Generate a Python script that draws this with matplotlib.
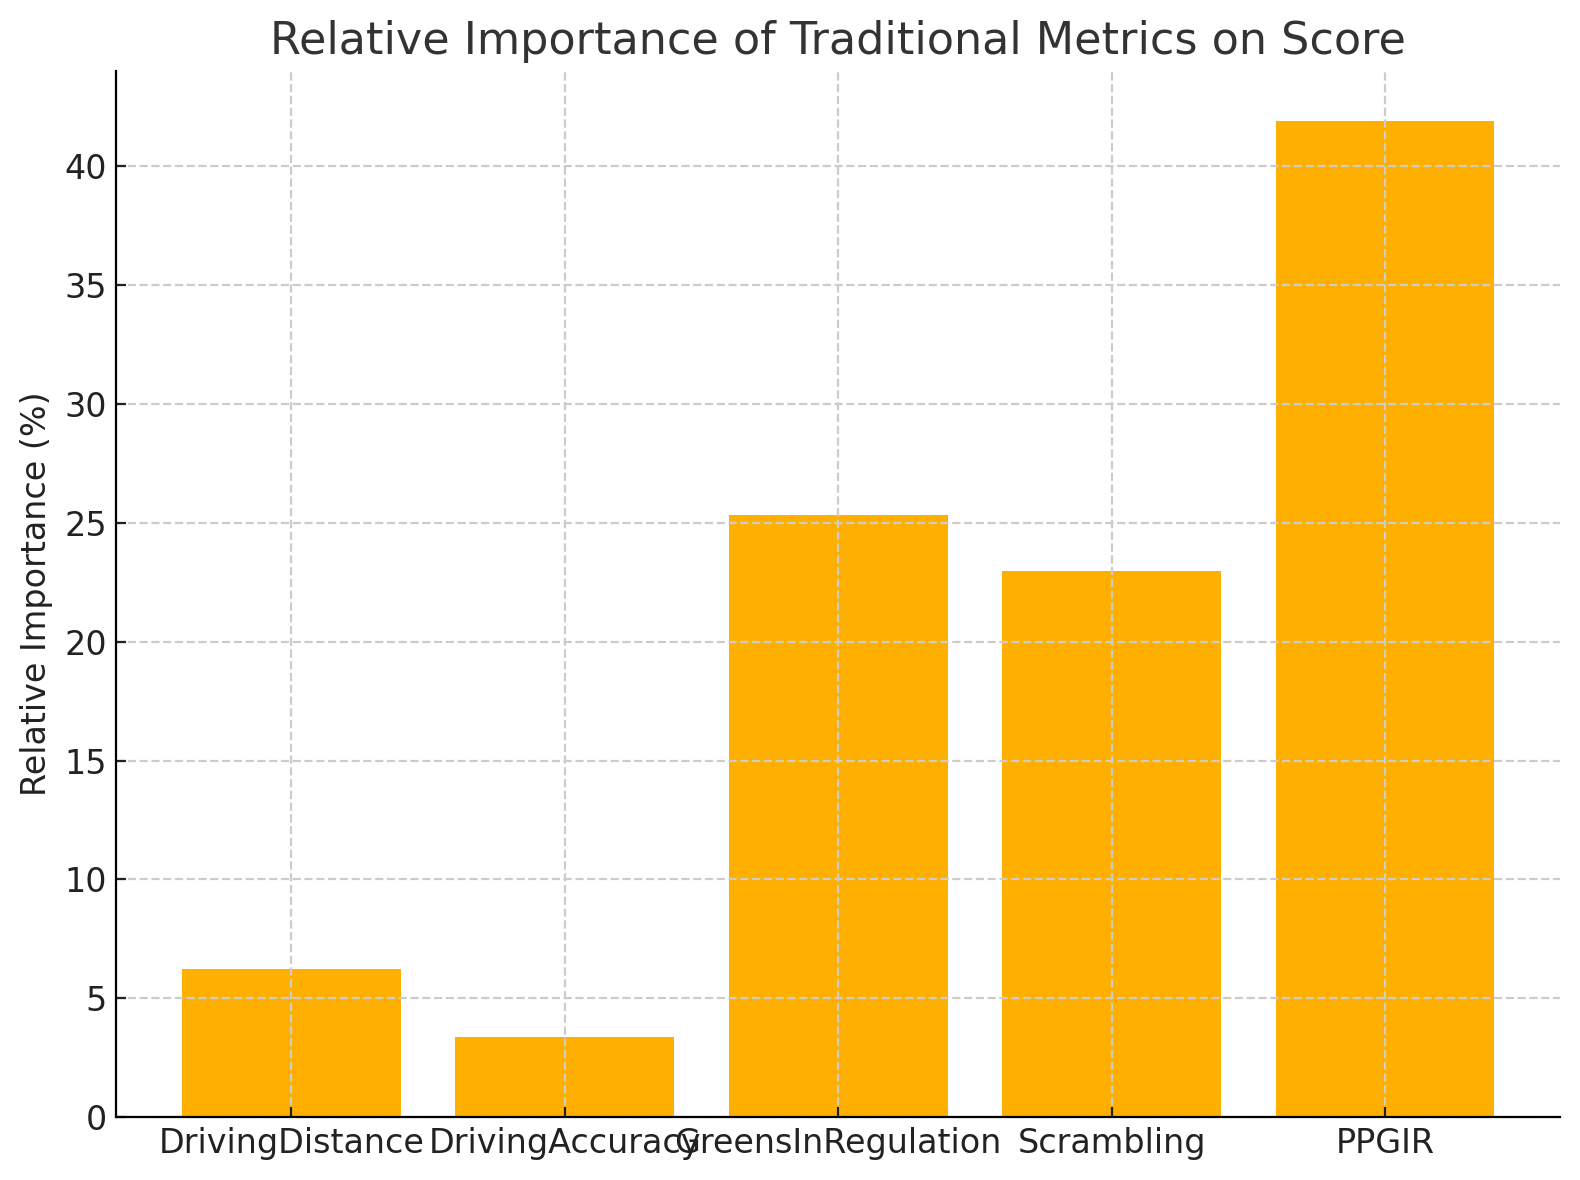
import matplotlib
matplotlib.use("Agg")
import matplotlib.pyplot as plt

# valores
metricas = ["DrivingDistance", "DrivingAccuracy", "GreensInRegulation",
            "Scrambling", "PPGIR"]
importancia = [6.25, 3.39, 25.32, 22.97, 41.92]

#------------------------------------------------------
def main():
    plt.rcParams['font.family'] = ['DejaVu Sans']
    fig, ax = plt.subplots(figsize=(8, 6), dpi=200)

    ax.bar(metricas, importancia, color="#FFAF00", width=0.8, zorder=1)

    ax.set_title("Relative Importance of Traditional Metrics on Score",
                 fontsize=16, color="#333333")
    ax.set_ylabel("Relative Importance (%)", fontsize=12, color="#222222")
    ax.tick_params(axis="both", labelsize=12, colors="#222222",
                   direction="in")

    # grade por cima das barras, como no original
    ax.grid(True, linestyle="--", color="#cccccc", linewidth=0.8, zorder=1.5)
    ax.set_axisbelow("line")
    ax.spines["top"].set_visible(False)
    ax.spines["right"].set_visible(False)

    fig.tight_layout()
    fig.savefig("out.png", dpi=200, bbox_inches="tight")

#------------------------------------------------------
if __name__ == "__main__":
    main()
